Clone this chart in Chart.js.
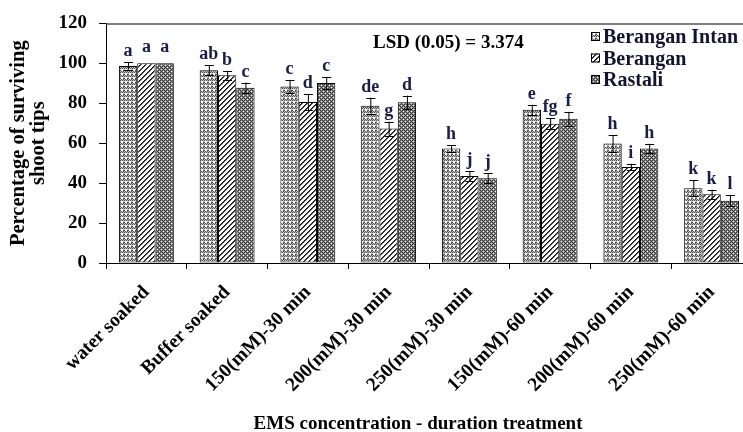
<!DOCTYPE html>
<html><head><meta charset="utf-8">
<style>html,body{margin:0;padding:0;background:#fff;overflow:hidden;}
#wrap{width:762px;height:432px;position:relative;}
</style>
<script src="https://cdn.jsdelivr.net/npm/chart.js@4.4.1/dist/chart.umd.min.js"></script>
</head><body><div id="wrap"><canvas id="c"></canvas></div>
<script>
const categories = ['water soaked','Buffer soaked','150(mM)-30 min','200(mM)-30 min','250(mM)-30 min','150(mM)-60 min','200(mM)-60 min','250(mM)-60 min'];
const seriesNames = ['Berangan Intan','Berangan','Rastali'];
const beranganIntan = [98.7,96.5,88.4,78.8,57.4,76.7,59.8,37.5];
const berangan = [100,94.0,80.6,67.3,43.6,69.7,48.1,34.4];
const rastali = [100,87.8,90.2,80.5,42.5,72.2,57.4,31.2];
const errIntan = [1.8,2.5,3.3,4.0,1.6,2.6,4.3,4.1];
const errBerangan = [0,2.2,4.1,3.5,2.3,2.7,1.6,2.3];
const errRastali = [0,2.6,3.0,3.3,2.5,3.5,2.3,2.9];
const lettersIntan = ['a','ab','c','de','h','e','h','k'];
const lettersBerangan = ['a','b','d','g','j','fg','i','k'];
const lettersRastali = ['a','c','c','d','j','f','h','l'];
const yTickValues = [0,20,40,60,80,100,120];
const lsdText = 'LSD (0.05) = 3.374';
const yTitle = ['Percentage of surviving','shoot tips'];
const xTitle = 'EMS concentration - duration treatment';

const SERIF = '"Liberation Serif","Times New Roman",serif';

function makePattern(kind){
  const c = document.createElement('canvas');
  const g = c.getContext('2d');
  if (kind === 0){
    c.width = 4; c.height = 4;
    const rows = ['DLDL','LWWL','DWWD','LDLD'];
    const col = {D:'#555555', L:'#bdbdbd', W:'#ffffff'};
    rows.forEach((r,y)=>{ for(let x=0;x<4;x++){ g.fillStyle = col[r[x]]; g.fillRect(x,y,1,1);} });
  } else if (kind === 1){
    c.width = 5; c.height = 5;
    g.fillStyle = '#ffffff'; g.fillRect(0,0,5,5);
    for (let i=0;i<5;i++){
      g.fillStyle = '#111111'; g.fillRect((4-i+5)%5,i,1,1);
      g.fillStyle = '#555555'; g.fillRect((5-i+5)%5,i,1,1);
    }
  } else {
    c.width = 4; c.height = 4;
    const rows = ['DMDM','MWMD','DMDM','MDMW'];
    const col = {D:'#3a3a3a', M:'#8a8a8a', W:'#f2f2f2'};
    rows.forEach((r,y)=>{ for(let x=0;x<4;x++){ g.fillStyle = col[r[x]]; g.fillRect(x,y,1,1);} });
  }
  return document.createElement('canvas').getContext('2d').createPattern(c,'repeat');
}
const patterns = [makePattern(0), makePattern(1), makePattern(2)];
const values = [beranganIntan, berangan, rastali];
const errors = [errIntan, errBerangan, errRastali];
const letters = [lettersIntan, lettersBerangan, lettersRastali];

const datasets = seriesNames.map((n,i)=>({
  label: n,
  data: values[i],
  backgroundColor: patterns[i],
  borderColor: '#000',
  borderWidth: 1,
  borderSkipped: false,
  barPercentage: 1,
  categoryPercentage: 0.68
}));

const decorPlugin = {
  id: 'decor',
  beforeDatasetsDraw(chart){
    const {ctx, chartArea:a} = chart;
    ctx.save();
    ctx.strokeStyle = '#555';
    ctx.lineWidth = 1.5;
    ctx.beginPath();
    ctx.moveTo(a.left, a.top+0.5); ctx.lineTo(a.right, a.top+0.5);
    ctx.lineTo(a.right, a.bottom);
    ctx.stroke();
    ctx.restore();
  },
  afterDatasetsDraw(chart){
    const {ctx} = chart;
    const ys = chart.scales.y;
    ctx.save();
    chart.data.datasets.forEach((ds,di)=>{
      const meta = chart.getDatasetMeta(di);
      meta.data.forEach((bar,j)=>{
        const v = ds.data[j], e = errors[di][j];
        let top = ys.getPixelForValue(v);
        if (e > 0){
          const y1 = ys.getPixelForValue(v+e), y2 = ys.getPixelForValue(v-e);
          ctx.strokeStyle = '#000'; ctx.lineWidth = 1;
          ctx.beginPath();
          ctx.moveTo(bar.x+0.5, y1); ctx.lineTo(bar.x+0.5, y2);
          ctx.moveTo(bar.x-4, Math.round(y1)+0.5); ctx.lineTo(bar.x+5, Math.round(y1)+0.5);
          ctx.moveTo(bar.x-4, Math.round(y2)+0.5); ctx.lineTo(bar.x+5, Math.round(y2)+0.5);
          ctx.stroke();
          top = y1;
        } else {
          top -= 5;
        }
        ctx.fillStyle = '#1c1c48';
        ctx.font = 'bold 18px ' + SERIF;
        ctx.textAlign = 'center';
        ctx.textBaseline = 'alphabetic';
        ctx.fillText(letters[di][j], bar.x, top - 6);
      });
    });
    ctx.fillStyle = '#000';
    ctx.font = 'bold 19px ' + SERIF;
    ctx.textAlign = 'left';
    ctx.textBaseline = 'middle';
    ctx.fillText(lsdText, 373, 43);
    const lx = 591, ly = 37, step = 21.5;
    seriesNames.forEach((n,i)=>{
      const y = ly + i*step;
      ctx.fillStyle = patterns[i];
      ctx.fillRect(lx, y-5, 9, 9);
      ctx.strokeStyle = '#000'; ctx.lineWidth = 1;
      ctx.strokeRect(lx+0.5, y-4.5, 8, 8);
      ctx.fillStyle = '#141430';
      ctx.font = 'bold 20px ' + SERIF;
      ctx.textAlign = 'left';
      ctx.textBaseline = 'middle';
      ctx.fillText(n, lx + 12, y + 1);
    });
    ctx.fillStyle = '#000';
    ctx.font = 'bold 19px ' + SERIF;
    ctx.textAlign = 'center';
    ctx.textBaseline = 'middle';
    ctx.fillText(xTitle, 418, 424);
    ctx.restore();
  }
};

new Chart(document.getElementById('c'), {
  type: 'bar',
  data: { labels: categories, datasets },
  options: {
    responsive: true,
    maintainAspectRatio: false,
    animation: false,
    layout: { padding: { left: 0, right: 10, top: 21, bottom: 0 } },
    plugins: { legend: { display: false }, tooltip: { enabled: false } },
    scales: {
      x: {
        grid: { display: true, drawOnChartArea: false, drawTicks: true, tickLength: 6, color: '#000', offset: true },
        border: { color: '#000', width: 1 },
        ticks: { color: '#000', font: { family: SERIF, size: 19.5, weight: 'bold' }, minRotation: 45, maxRotation: 45, autoSkip: false, padding: 12 },
        title: { display: false },
        afterFit(s){ s.height = 169; }
      },
      y: {
        min: 0, max: 120,
        afterBuildTicks(s){ s.ticks = yTickValues.map(v=>({value:v})); },
        grid: { display: true, drawOnChartArea: false, drawTicks: true, tickLength: 7, color: '#000' },
        border: { color: '#000', width: 1 },
        ticks: { color: '#000', font: { family: SERIF, size: 19, weight: 'bold' }, padding: 12 },
        title: { display: true, text: yTitle, color: '#000', font: { family: SERIF, size: 20.5, weight: 'bold', lineHeight: 0.95 }, padding: { top: 9, bottom: 0 } },
        afterFit(s){ s.width = 106; }
      }
    }
  },
  plugins: [decorPlugin]
});
</script>
</body></html>
